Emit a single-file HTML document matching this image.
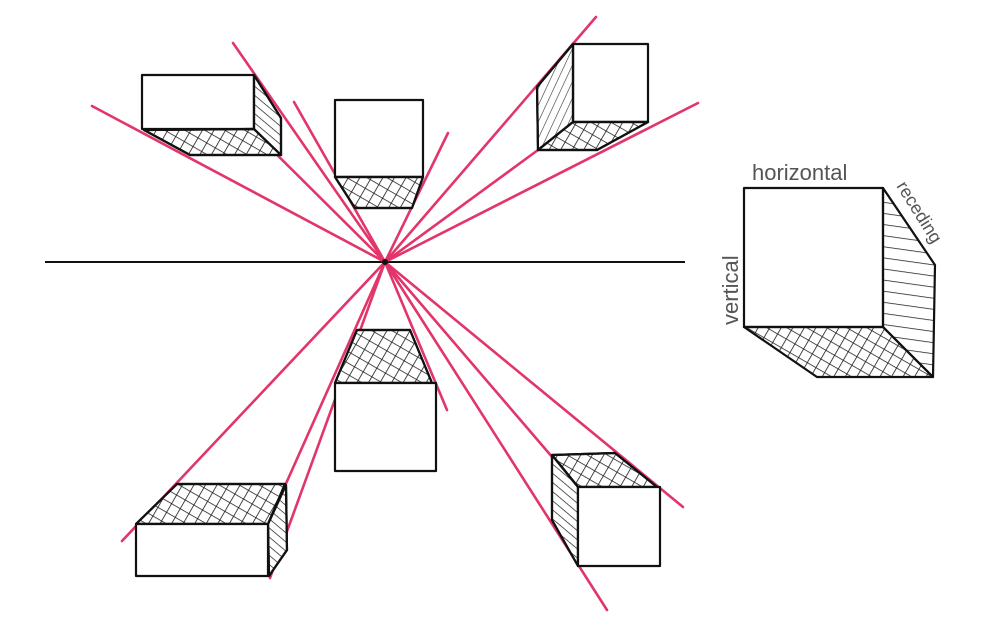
<!DOCTYPE html>
<html><head><meta charset="utf-8"><style>
html,body{margin:0;padding:0;background:#fff;}
svg{display:block;}
text{font-family:"Liberation Sans",sans-serif;fill:#555;}
</style></head><body>
<svg width="1000" height="629" viewBox="0 0 1000 629" xmlns="http://www.w3.org/2000/svg">
<defs>
<pattern id="x" width="10" height="10" patternUnits="userSpaceOnUse" patternTransform="rotate(30)">
<path d="M0 0V10M0 0H10" stroke="#1a1a1a" stroke-width="1.6"/>
</pattern>
<pattern id="d" width="7" height="7" patternUnits="userSpaceOnUse" patternTransform="rotate(40)">
<path d="M0 0H7" stroke="#1a1a1a" stroke-width="1.4"/>
</pattern>
<pattern id="d2" width="7" height="7" patternUnits="userSpaceOnUse" patternTransform="rotate(-65)">
<path d="M0 0H7" stroke="#333" stroke-width="1.2"/>
</pattern>
<pattern id="h" width="10" height="11" patternUnits="userSpaceOnUse" patternTransform="rotate(8)">
<path d="M0 0H10" stroke="#1a1a1a" stroke-width="1.5"/>
</pattern>
</defs>
<line x1="45" y1="262" x2="685" y2="262" stroke="#111" stroke-width="2"/>

<g stroke="#e0245e" stroke-width="2.6" stroke-linecap="round" opacity="0.92">
<line x1="92" y1="106" x2="385" y2="262"/>
<line x1="233" y1="43" x2="385" y2="262"/>
<line x1="242" y1="120" x2="385" y2="262"/>
<line x1="294" y1="102" x2="385" y2="262"/>
<line x1="448" y1="133" x2="385" y2="262"/>
<line x1="596" y1="17" x2="385" y2="262"/>
<line x1="538" y1="150" x2="385" y2="262"/>
<line x1="698" y1="103" x2="385" y2="262"/>
<line x1="122" y1="541" x2="385" y2="262"/>
<line x1="263" y1="535" x2="385" y2="262"/>
<line x1="270" y1="578" x2="385" y2="262"/>
<line x1="447" y1="410" x2="385" y2="262"/>
<line x1="683" y1="507" x2="385" y2="262"/>
<line x1="595" y1="507" x2="385" y2="262"/>
<line x1="607" y1="610" x2="385" y2="262"/>
</g>

<g fill="none" stroke="#111" stroke-width="2.2" stroke-linejoin="round">
<rect x="142" y="75" width="112" height="54" fill="#fff"/>
<path d="M144 130L254 129L281 155L190 155Z" fill="#fff"/>
<path d="M144 130L254 129L281 155L190 155Z" fill="url(#x)"/>
<path d="M254 75L281 118L281 155L254 129Z" fill="#fff"/>
<path d="M254 75L281 118L281 155L254 129Z" fill="url(#d)"/>
<rect x="335" y="100" width="88" height="77" fill="#fff"/>
<path d="M335 177L423 177L412 208L355 208Z" fill="#fff"/>
<path d="M335 177L423 177L412 208L355 208Z" fill="url(#x)"/>
<rect x="573" y="44" width="75" height="78" fill="#fff"/>
<path d="M573 44L537 87L538 150L573 122Z" fill="#fff"/>
<path d="M573 44L537 87L538 150L573 122Z" fill="url(#d2)"/>
<path d="M538 150L597 150L648 122L573 122Z" fill="#fff"/>
<path d="M538 150L597 150L648 122L573 122Z" fill="url(#x)"/>
<path d="M357 330L410 330L432 383L335 383Z" fill="#fff"/>
<path d="M357 330L410 330L432 383L335 383Z" fill="url(#x)"/>
<rect x="335" y="383" width="101" height="88" fill="#fff"/>
<path d="M177 484L285 484L268 524L136 524Z" fill="#fff"/>
<path d="M177 484L285 484L268 524L136 524Z" fill="url(#x)"/>
<path d="M268 524L286 485L287 550L269 576Z" fill="#fff"/>
<path d="M268 524L286 485L287 550L269 576Z" fill="url(#d)"/>
<rect x="136" y="524" width="132" height="52" fill="#fff"/>
<path d="M552 455L615 453L657 487L578 487Z" fill="#fff"/>
<path d="M552 455L615 453L657 487L578 487Z" fill="url(#x)"/>
<path d="M552 455L578 487L578 566L552 520Z" fill="#fff"/>
<path d="M552 455L578 487L578 566L552 520Z" fill="url(#d)"/>
<rect x="578" y="487" width="82" height="79" fill="#fff"/>
<rect x="744" y="188" width="139" height="139" fill="#fff"/>
<path d="M883 188L935 265L933 377L883 327Z" fill="url(#h)"/>
<path d="M744 327L883 327L933 377L817 377Z" fill="url(#x)"/>
</g>
<circle cx="385" cy="262" r="3" fill="#111"/>

<text x="752" y="180" font-size="22">horizontal</text>
<text transform="translate(738,325) rotate(-90)" font-size="22">vertical</text>
<text transform="translate(896,186) rotate(58)" font-size="18">receding</text>
</svg>
</body></html>
